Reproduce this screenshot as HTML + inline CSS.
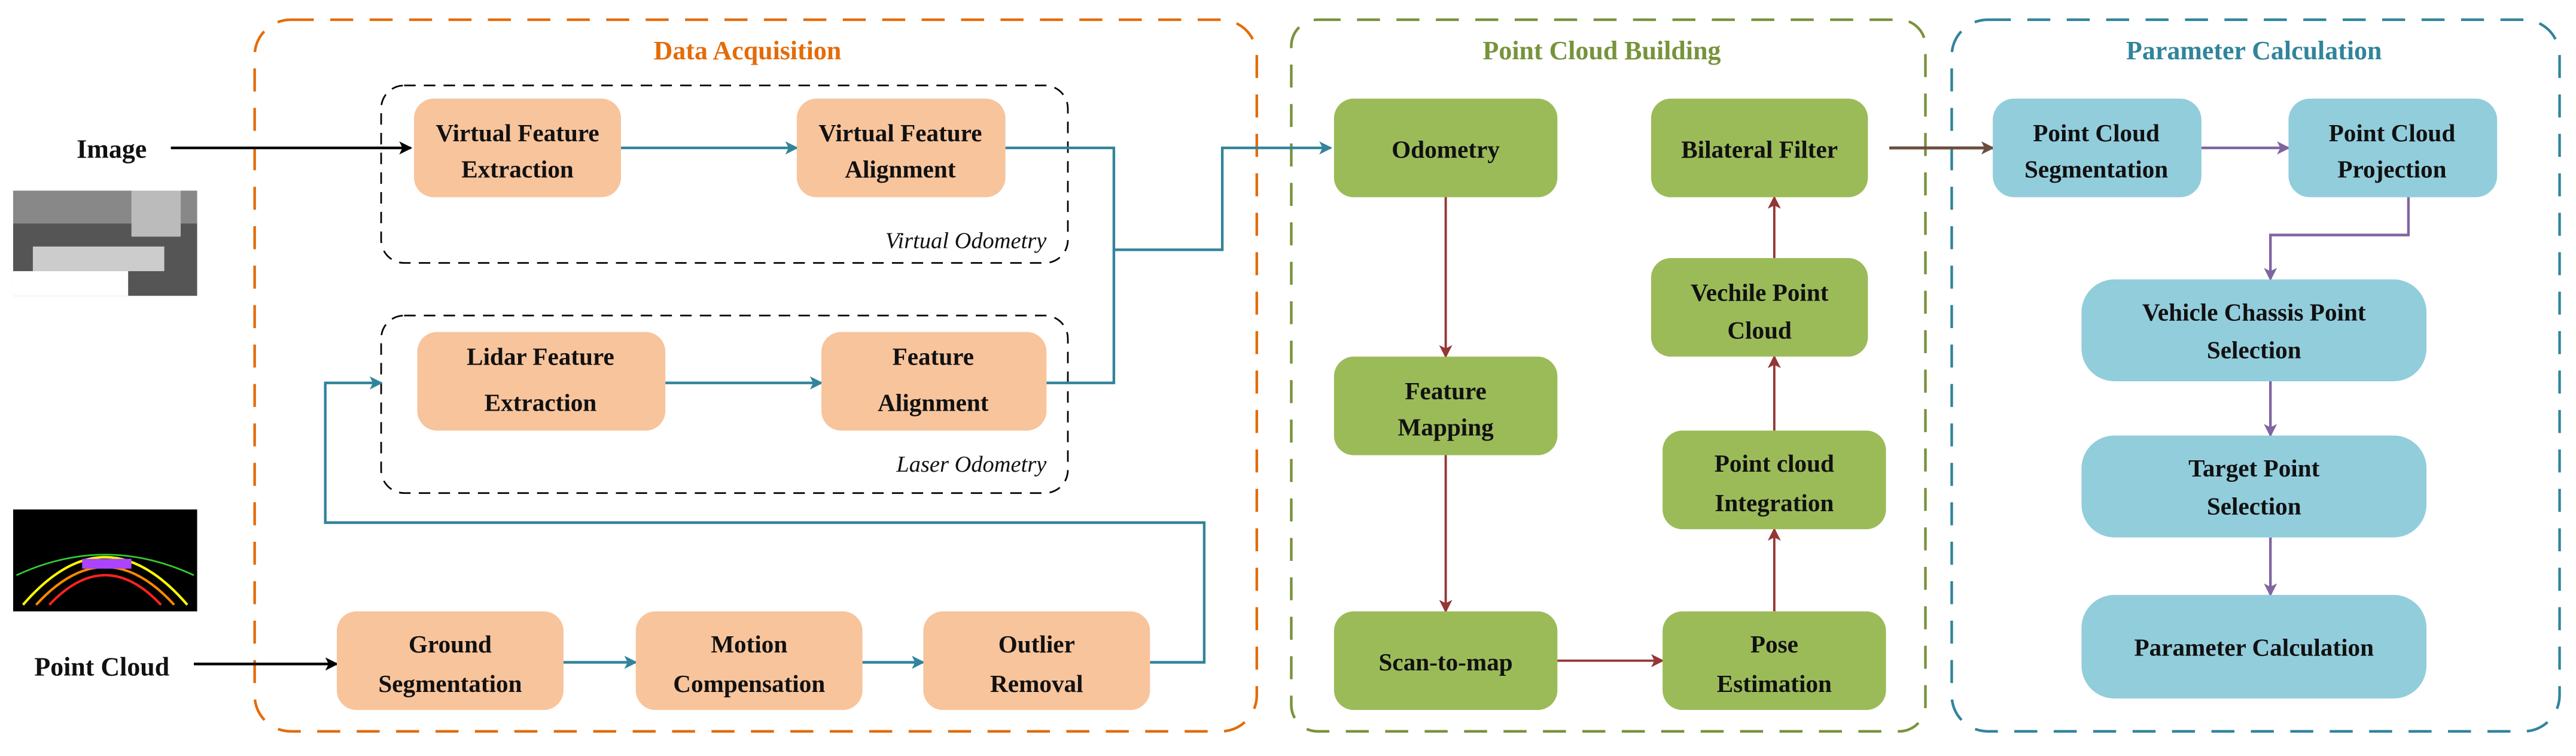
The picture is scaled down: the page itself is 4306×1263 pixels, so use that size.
<!DOCTYPE html>
<html><head><meta charset="utf-8"><style>
html,body{margin:0;padding:0;background:#fff;}
svg{display:block;}
text{font-family:"Liberation Serif",serif;font-weight:bold;font-size:15px;fill:#111;text-anchor:middle;}
</style></head><body>
<svg width="4306" height="1263" viewBox="0 0 1568 460" preserveAspectRatio="none" xmlns="http://www.w3.org/2000/svg">
<defs>
<marker id="aK" markerWidth="8" markerHeight="8" refX="7" refY="4" orient="auto" markerUnits="userSpaceOnUse"><path d="M0,0 L8,4 L0,8 L2,4 z" fill="#000"/></marker>
<marker id="aT" markerWidth="8" markerHeight="8" refX="7" refY="4" orient="auto" markerUnits="userSpaceOnUse"><path d="M0,0 L8,4 L0,8 L2,4 z" fill="#31849b"/></marker>
<marker id="aR" markerWidth="8" markerHeight="8" refX="7" refY="4" orient="auto" markerUnits="userSpaceOnUse"><path d="M0,0 L8,4 L0,8 L2,4 z" fill="#943634"/></marker>
<marker id="aB" markerWidth="8" markerHeight="8" refX="7" refY="4" orient="auto" markerUnits="userSpaceOnUse"><path d="M0,0 L8,4 L0,8 L2,4 z" fill="#6b4e3d"/></marker>
<marker id="aP" markerWidth="8" markerHeight="8" refX="7" refY="4" orient="auto" markerUnits="userSpaceOnUse"><path d="M0,0 L8,4 L0,8 L2,4 z" fill="#8064a2"/></marker>
</defs>
<!-- outer groups -->
<rect x="155" y="12" width="610" height="433" rx="22" fill="none" stroke="#e36c0a" stroke-width="1.6" stroke-dasharray="14,10"/>
<text x="455" y="36" style="fill:#e36c0a;font-size:16px">Data Acquisition</text>
<rect x="786" y="12" width="386" height="433" rx="16" fill="none" stroke="#77933c" stroke-width="1.6" stroke-dasharray="14,10"/>
<text x="975" y="36" style="fill:#77933c;font-size:16px">Point Cloud Building</text>
<rect x="1188" y="12" width="370" height="433" rx="22" fill="none" stroke="#31849b" stroke-width="1.6" stroke-dasharray="14,10"/>
<text x="1372" y="36" style="fill:#31849b;font-size:16px">Parameter Calculation</text>
<!-- odometry dashed boxes -->
<rect x="232" y="52" width="418" height="108" rx="14" fill="none" stroke="#000" stroke-width="1" stroke-dasharray="7,5"/>
<rect x="232" y="192" width="418" height="108" rx="14" fill="none" stroke="#000" stroke-width="1" stroke-dasharray="7,5"/>
<text x="637" y="151" style="font-weight:normal;font-style:italic;font-size:14px;text-anchor:end">Virtual Odometry</text>
<text x="637" y="287" style="font-weight:normal;font-style:italic;font-size:14px;text-anchor:end">Laser Odometry</text>
<!-- inputs -->
<text x="68" y="96" style="font-size:16px">Image</text>
<line x1="104" y1="90" x2="250" y2="90" stroke="#000" stroke-width="1.6" marker-end="url(#aK)"/>
<rect x="8" y="116" width="112" height="64" fill="#555"/>
<rect x="8" y="116" width="112" height="20" fill="#888"/>
<rect x="80" y="116" width="30" height="28" fill="#bbb"/>
<rect x="20" y="150" width="80" height="15" fill="#ccc"/>
<rect x="8" y="165" width="70" height="15" fill="#fff"/>
<text x="62" y="411" style="font-size:16px">Point Cloud</text>
<line x1="118" y1="404" x2="205" y2="404" stroke="#000" stroke-width="1.6" marker-end="url(#aK)"/>
<rect x="8" y="310" width="112" height="62" fill="#000"/>
<path d="M14,368 Q64,310 114,368" fill="none" stroke="#ff0" stroke-width="1.5"/>
<path d="M22,368 Q64,322 106,368" fill="none" stroke="#f80" stroke-width="1.5"/>
<path d="M30,368 Q64,332 98,368" fill="none" stroke="#f22" stroke-width="1.5"/>
<path d="M10,350 Q64,325 118,350" fill="none" stroke="#3c3" stroke-width="1"/>
<rect x="50" y="340" width="30" height="6" fill="#a4f"/>
<!-- teal connectors -->
<g fill="none" stroke="#31849b" stroke-width="1.6">
<line x1="378" y1="90" x2="485" y2="90" marker-end="url(#aT)"/>
<line x1="405" y1="233" x2="500" y2="233" marker-end="url(#aT)"/>
<polyline points="612,90 678,90 678,233 637,233"/>
<polyline points="678,152 744,152 744,90 810,90" marker-end="url(#aT)"/>
<line x1="343" y1="403" x2="387" y2="403" marker-end="url(#aT)"/>
<line x1="525" y1="403" x2="562" y2="403" marker-end="url(#aT)"/>
<polyline points="700,403 733,403 733,318 198,318 198,233 232,233" marker-end="url(#aT)"/>
</g>
<!-- orange boxes -->
<g fill="#f8c49c">
<rect x="252" y="60" width="126" height="60" rx="12"/>
<rect x="485" y="60" width="127" height="60" rx="12"/>
<rect x="254" y="202" width="151" height="60" rx="12"/>
<rect x="500" y="202" width="137" height="60" rx="12"/>
<rect x="205" y="372" width="138" height="60" rx="12"/>
<rect x="387" y="372" width="138" height="60" rx="12"/>
<rect x="562" y="372" width="138" height="60" rx="12"/>
</g>
<text x="315" y="86">Virtual Feature</text><text x="315" y="108">Extraction</text>
<text x="548" y="86">Virtual Feature</text><text x="548" y="108">Alignment</text>
<text x="329" y="222">Lidar Feature</text><text x="329" y="250">Extraction</text>
<text x="568" y="222">Feature</text><text x="568" y="250">Alignment</text>
<text x="274" y="397">Ground</text><text x="274" y="421">Segmentation</text>
<text x="456" y="397">Motion</text><text x="456" y="421">Compensation</text>
<text x="631" y="397">Outlier</text><text x="631" y="421">Removal</text>
<!-- red connectors -->
<g fill="none" stroke="#943634" stroke-width="1.4">
<line x1="880" y1="120" x2="880" y2="217" marker-end="url(#aR)"/>
<line x1="880" y1="277" x2="880" y2="372" marker-end="url(#aR)"/>
<line x1="948" y1="402" x2="1012" y2="402" marker-end="url(#aR)"/>
<line x1="1080" y1="372" x2="1080" y2="322" marker-end="url(#aR)"/>
<line x1="1080" y1="262" x2="1080" y2="217" marker-end="url(#aR)"/>
<line x1="1080" y1="157" x2="1080" y2="120" marker-end="url(#aR)"/>
</g>
<line x1="1150" y1="90" x2="1213" y2="90" stroke="#6b4e3d" stroke-width="1.8" marker-end="url(#aB)"/>
<!-- green boxes -->
<g fill="#9bbb59">
<rect x="812" y="60" width="136" height="60" rx="12"/>
<rect x="1005" y="60" width="132" height="60" rx="12"/>
<rect x="812" y="217" width="136" height="60" rx="12"/>
<rect x="812" y="372" width="136" height="60" rx="12"/>
<rect x="1012" y="372" width="136" height="60" rx="12"/>
<rect x="1012" y="262" width="136" height="60" rx="12"/>
<rect x="1005" y="157" width="132" height="60" rx="12"/>
</g>
<text x="880" y="96">Odometry</text>
<text x="1071" y="96">Bilateral Filter</text>
<text x="880" y="243">Feature</text><text x="880" y="265">Mapping</text>
<text x="880" y="408">Scan-to-map</text>
<text x="1080" y="397">Pose</text><text x="1080" y="421">Estimation</text>
<text x="1080" y="287">Point cloud</text><text x="1080" y="311">Integration</text>
<text x="1071" y="183">Vechile Point</text><text x="1071" y="206">Cloud</text>
<!-- purple connectors -->
<g fill="none" stroke="#8064a2" stroke-width="1.6">
<line x1="1340" y1="90" x2="1393" y2="90" marker-end="url(#aP)"/>
<polyline points="1466,120 1466,143 1382,143 1382,170" marker-end="url(#aP)"/>
<line x1="1382" y1="232" x2="1382" y2="265" marker-end="url(#aP)"/>
<line x1="1382" y1="327" x2="1382" y2="362" marker-end="url(#aP)"/>
</g>
<!-- blue boxes -->
<g fill="#92cddc">
<rect x="1213" y="60" width="127" height="60" rx="13"/>
<rect x="1393" y="60" width="127" height="60" rx="13"/>
<rect x="1267" y="170" width="210" height="62" rx="20"/>
<rect x="1267" y="265" width="210" height="62" rx="20"/>
<rect x="1267" y="362" width="210" height="63" rx="20"/>
</g>
<text x="1276" y="86">Point Cloud</text><text x="1276" y="108">Segmentation</text>
<text x="1456" y="86">Point Cloud</text><text x="1456" y="108">Projection</text>
<text x="1372" y="195">Vehicle Chassis Point</text><text x="1372" y="218">Selection</text>
<text x="1372" y="290">Target Point</text><text x="1372" y="313">Selection</text>
<text x="1372" y="399">Parameter Calculation</text>
</svg>
</body></html>
